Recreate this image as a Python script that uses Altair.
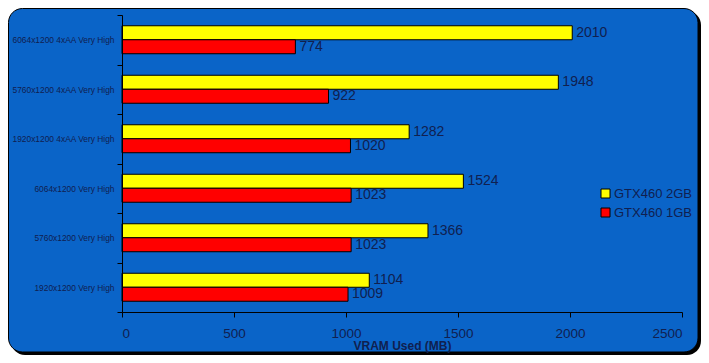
import altair as alt
import pandas as pd

categories = [
    "6064x1200 4xAA Very High",
    "5760x1200 4xAA Very High",
    "1920x1200 4xAA Very High",
    "6064x1200 Very High",
    "5760x1200 Very High",
    "1920x1200 Very High",
]
series = ["GTX460 2GB", "GTX460 1GB"]
gtx_2gb = [2010, 1948, 1282, 1524, 1366, 1104]
gtx_1gb = [774, 922, 1020, 1023, 1023, 1009]
colors = ["#FFFF00", "#FF0000"]
x_ticks = [0, 500, 1000, 1500, 2000, 2500]

rows = []
for c, a, b in zip(categories, gtx_2gb, gtx_1gb):
    rows.append({"cat": c, "series": series[0], "val": a})
    rows.append({"cat": c, "series": series[1], "val": b})
df = pd.DataFrame(rows)

TXT = "#102050"
FONT = "Liberation Sans"
W, H = 560, 297

one = alt.Data(values=[{"a": 1}])

shadow = alt.Chart(one).mark_rect(color="#000000", cornerRadius=14).encode(
    x=alt.value(-111), x2=alt.value(579), y=alt.value(-4), y2=alt.value(340)
)
panel = alt.Chart(one).mark_rect(
    color="#0A64C8", stroke="#000000", strokeWidth=1, cornerRadius=14
).encode(
    x=alt.value(-113.5), x2=alt.value(576), y=alt.value(-6.5), y2=alt.value(337)
)

y_enc = alt.Y(
    "cat:N",
    sort=categories,
    scale=alt.Scale(paddingInner=0, paddingOuter=0),
    axis=alt.Axis(
        title=None,
        labelFontSize=8.4,
        labelColor=TXT,
        labelFont=FONT,
        tickBand="extent",
        tickColor="#000000",
        tickSize=5,
        domainColor="#000000",
        labelPadding=3,
        zindex=1,
    ),
)
x_enc = alt.X(
    "val:Q",
    scale=alt.Scale(domain=[0, 2500], nice=False),
    axis=alt.Axis(
        title="VRAM Used (MB)",
        values=x_ticks,
        format="d",
        grid=False,
        labelFontSize=13.5,
        labelColor=TXT,
        labelFont=FONT,
        labelPadding=9,
        tickColor="#000000",
        tickSize=5,
        domainColor="#000000",
        titleFont=FONT,
        titleFontSize=12,
        titleFontWeight="bold",
        titleColor=TXT,
        titlePadding=1,
        zindex=1,
    ),
)
yoff = alt.YOffset(
    "series:N", sort=series, scale=alt.Scale(paddingInner=0, paddingOuter=0.768)
)

bars = alt.Chart(df).mark_bar(stroke="#000000", strokeWidth=1).encode(
    y=y_enc,
    x=x_enc,
    yOffset=yoff,
    color=alt.Color(
        "series:N",
        scale=alt.Scale(domain=series, range=colors),
        legend=alt.Legend(
            title=None,
            orient="none",
            legendX=477,
            legendY=172,
            symbolType="square",
            symbolSize=81,
            symbolStrokeColor="#000000",
            symbolStrokeWidth=1,
            labelFontSize=13,
            labelColor=TXT,
            labelFont=FONT,
            rowPadding=5,
            labelOffset=2,
        ),
    ),
)
labels = alt.Chart(df).mark_text(
    align="left", baseline="middle", dx=4, fontSize=14, color=TXT, font=FONT
).encode(y=y_enc, x=x_enc, yOffset=yoff, text="val:Q")

chart = alt.layer(shadow, panel, bars, labels).properties(
    width=W,
    height=H,
    autosize=alt.AutoSizeParams(type="none"),
    padding={"left": 114, "top": 7, "right": 19, "bottom": 43},
    background="#FFFFFF",
).configure_view(stroke=None)

chart.save("out.html", embed_options={"renderer": "svg", "actions": False})
